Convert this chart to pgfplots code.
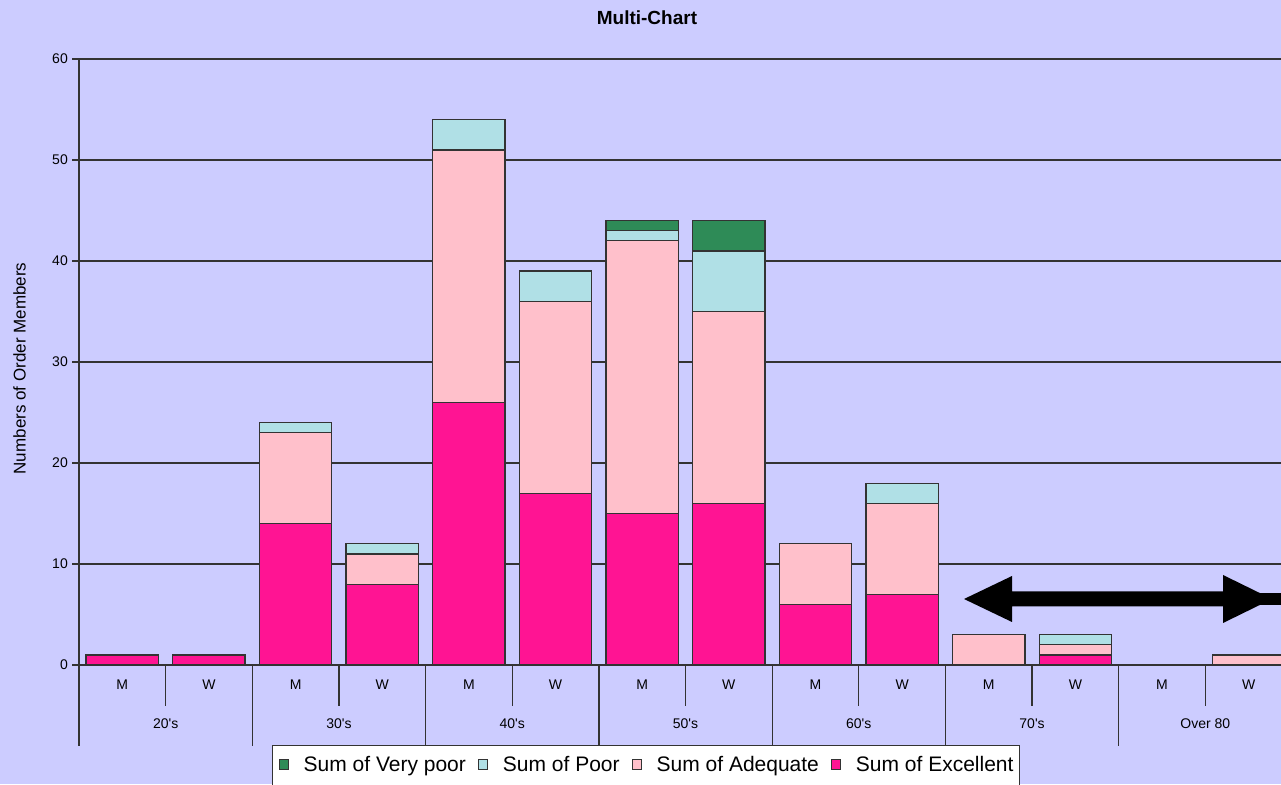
\documentclass[border=0pt]{standalone}
\usepackage{fontspec}
\setmainfont{Liberation Sans}[Ligatures=TeXOff]
\usepackage{pgfplots}
\usepackage{pgfplotstable}
\pgfplotsset{compat=1.18}
\definecolor{bg}{HTML}{CCCCFF}
\definecolor{exc}{HTML}{FF1493}
\definecolor{adq}{HTML}{FFC0CB}
\definecolor{poor}{HTML}{B0E0E6}
\definecolor{vp}{HTML}{2E8B57}
\definecolor{ln}{HTML}{333333}
\pgfplotstableread{
x exc adq poor vp
0 1 0 0 0
1 1 0 0 0
2 14 9 1 0
3 8 3 1 0
4 26 25 3 0
5 17 19 3 0
6 15 27 1 1
7 16 19 6 3
8 6 6 0 0
9 7 9 2 0
10 0 3 0 0
11 1 1 1 0
12 0 0 0 0
13 0 1 0 0
}\data
\begin{document}
\begin{tikzpicture}
\path[use as bounding box, clip] (0pt,0pt) rectangle (1281pt,784pt);
\fill[bg] (0pt,0pt) rectangle (1281pt,784pt);
\begin{axis}[
  at={(79pt,119pt)}, anchor=south west,
  scale only axis, width=1202pt, height=606pt,
  xmin=-0.5, xmax=13.373, ymin=0, ymax=60,
  ybar stacked, bar width=0.835,
  clip=false,
  axis lines=left, axis line style={draw=none},
  ymajorgrids, grid style={ln, line width=1.3pt},
  ytick={0,10,...,60},
  ytick align=outside, xtick align=inside,
  major tick length=7pt,
  ytick style={ln, line width=1.3pt},
  xtick style={draw=none},
  /pgf/number format/assume math mode=true,
  yticklabel style={font=\fontsize{14}{16}\selectfont, inner sep=0pt, xshift=-4pt},
  xtick={0,...,13},
  xticklabels={M,W,M,W,M,W,M,W,M,W,M,W,M,W},
  xticklabel style={font=\fontsize{14}{16}\selectfont, inner sep=0pt, anchor=north, yshift=-15pt},
  extra x ticks={0.5,2.5,4.5,6.5,8.5,10.5,12.5},
  extra x tick labels={20's,30's,40's,50's,60's,70's,Over 80},
  extra x tick style={xticklabel style={yshift=-39pt}, xtick style={draw=none}},
  title={Multi-Chart},
  title style={font=\fontsize{19}{22}\bfseries, at={(axis description cs:0.4725,1.0578)}, anchor=center, inner sep=0pt},
  ylabel={Numbers of Order Members},
  ylabel style={font=\fontsize{17}{20}\selectfont, at={(axis description cs:-0.0495,0.4893)}, anchor=center, rotate=0, inner sep=0pt},
  legend columns=4, reverse legend,
  legend style={at={(axis description cs:0.1606,-0.132)}, anchor=north west,
    draw=ln, line width=1.3pt, fill=white,
    font=\fontsize{21}{25}\selectfont, inner xsep=6pt, inner ysep=11pt,
    nodes={inner sep=0pt, text depth=12pt},
    /tikz/every odd column/.append style={column sep=15pt},
    /tikz/every even column/.append style={column sep=12pt}},
  legend image code/.code={\draw[#1, line width=1pt, draw=ln] (0pt,1pt) rectangle (9pt,11pt);},
]
\addplot[fill=exc, draw=ln, line width=1.3pt] table[x=x,y=exc]{\data};
\addlegendentry{Sum of Excellent}
\addplot[fill=adq, draw=ln, line width=1.3pt] table[x=x,y=adq]{\data};
\addlegendentry{Sum of Adequate}
\addplot[fill=poor, draw=ln, line width=1.3pt] table[x=x,y=poor]{\data};
\addlegendentry{Sum of Poor}
\addplot[fill=vp, draw=ln, line width=1.3pt] table[x=x,y=vp]{\data};
\addlegendentry{Sum of Very poor}
\draw[ln, line width=1.3pt] (axis cs:-0.5,60) -- (axis cs:-0.5,0) -- ++(0pt,-81pt);
\pgfplotsinvokeforeach{1.5,3.5,5.5,7.5,9.5,11.5}{\draw[ln, line width=1.3pt] (axis cs:#1,0) -- ++(0pt,-81pt);}
\pgfplotsinvokeforeach{0.5,2.5,4.5,6.5,8.5,10.5,12.5}{\draw[ln, line width=1.3pt] (axis cs:#1,0) -- ++(0pt,-41pt);}
\end{axis}
\fill[black] (964pt,185pt) -- (1012pt,208pt) -- (1012pt,192.5pt) -- (1223pt,192.5pt) -- (1223pt,209pt) -- (1272pt,185pt) -- (1223pt,161pt) -- (1223pt,177.5pt) -- (1012pt,177.5pt) -- (1012pt,162pt) -- cycle;
\fill[black] (1223pt,179pt) rectangle (1290pt,191pt);
\end{tikzpicture}
\end{document}
